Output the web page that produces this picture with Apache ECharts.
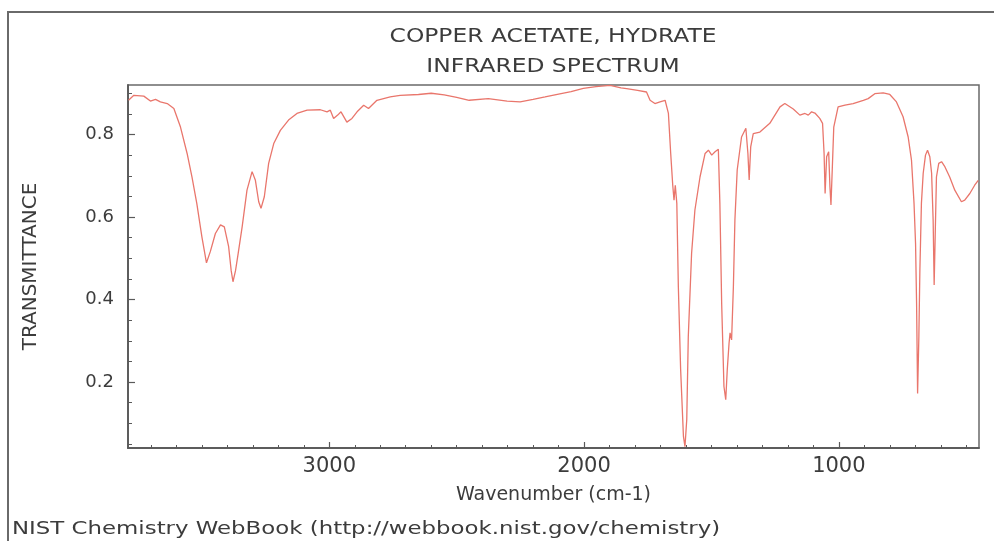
<!DOCTYPE html>
<html>
<head>
<meta charset="utf-8">
<script src="https://cdn.jsdelivr.net/npm/echarts@6/dist/echarts.min.js"></script>
<style>
  html, body { margin: 0; padding: 0; background: #ffffff; }
  #chart { width: 994px; height: 541px; }
</style>
</head>
<body>
<div id="chart"></div>
<script>
// IR spectrum of copper acetate hydrate: wavenumber (cm-1) vs transmittance
const wavenumbers = [
  3788, 3767, 3728, 3702, 3682, 3663, 3636, 3610, 3584, 3558, 3539, 3520, 3500, 3482,
  3467, 3447, 3427, 3412, 3395, 3385, 3378, 3368, 3358, 3342, 3323, 3303, 3290, 3277,
  3268, 3255, 3238, 3218, 3192, 3160, 3127, 3087, 3035, 3009, 2996, 2983, 2967, 2954,
  2931, 2911, 2891, 2865, 2846, 2813, 2761, 2722, 2650, 2600, 2549, 2500, 2451, 2376,
  2302, 2251, 2200, 2153, 2100, 2051, 2003, 1953, 1898, 1855, 1833, 1790, 1755, 1741,
  1722, 1702, 1682, 1669, 1660, 1652, 1647, 1642, 1636, 1630, 1621, 1610, 1604, 1597,
  1591, 1578, 1565, 1545, 1525, 1512, 1499, 1486, 1473, 1467, 1460, 1451, 1444, 1438,
  1431, 1427, 1421, 1414, 1408, 1399, 1382, 1365, 1357, 1352, 1346, 1336, 1310, 1271,
  1231, 1212, 1205, 1179, 1153, 1133, 1120, 1107, 1094, 1075, 1064, 1058, 1054, 1048,
  1040, 1035, 1031, 1026, 1020, 1003, 976, 944, 904, 885, 859, 826, 800, 774,
  748, 728, 715, 705, 699, 695, 691, 686, 682, 676, 669, 660, 652, 643,
  636, 630, 626, 622, 617, 608, 597, 584, 565, 545, 519, 506, 486, 467, 453
];
const transmittance = [
  0.883, 0.895, 0.893, 0.881, 0.885, 0.879, 0.875, 0.863, 0.818, 0.754, 0.697, 0.633, 0.552, 0.489,
  0.516, 0.560, 0.581, 0.576, 0.528, 0.470, 0.443, 0.470, 0.510, 0.576, 0.665, 0.710, 0.689, 0.637,
  0.621, 0.649, 0.730, 0.778, 0.810, 0.835, 0.851, 0.859, 0.860, 0.855, 0.859, 0.839, 0.847, 0.855,
  0.830, 0.839, 0.855, 0.871, 0.863, 0.883, 0.891, 0.895, 0.897, 0.900, 0.896, 0.890, 0.883, 0.887,
  0.881, 0.879, 0.885, 0.891, 0.898, 0.904, 0.912, 0.916, 0.919, 0.913, 0.911, 0.907, 0.903, 0.883,
  0.875, 0.879, 0.883, 0.851, 0.754, 0.677, 0.641, 0.677, 0.633, 0.431, 0.230, 0.068, 0.043, 0.109,
  0.310, 0.512, 0.617, 0.697, 0.754, 0.762, 0.750, 0.758, 0.764, 0.633, 0.391, 0.189, 0.157, 0.230,
  0.294, 0.319, 0.302, 0.431, 0.593, 0.714, 0.794, 0.815, 0.754, 0.690, 0.770, 0.802, 0.806, 0.827,
  0.867, 0.875, 0.871, 0.862, 0.847, 0.851, 0.847, 0.855, 0.852, 0.839, 0.827, 0.754, 0.657, 0.746,
  0.758, 0.673, 0.629, 0.714, 0.818, 0.867, 0.871, 0.875, 0.883, 0.887, 0.899, 0.901, 0.897, 0.879,
  0.843, 0.794, 0.738, 0.633, 0.536, 0.391, 0.172, 0.310, 0.472, 0.633, 0.706, 0.750, 0.762, 0.746,
  0.706, 0.593, 0.435, 0.552, 0.697, 0.730, 0.734, 0.722, 0.697, 0.665, 0.637, 0.641, 0.657, 0.677, 0.689
];

// Axis ticks and labels
const xLabelValues = [1000, 2000, 3000];
const xMinorTicks = [500, 600, 700, 800, 900, 1000, 1100, 1200, 1300, 1400, 1500, 1600, 1700, 1800,
  1900, 2000, 2100, 2200, 2300, 2400, 2500, 2600, 2700, 2800, 2900, 3000, 3100, 3200, 3300, 3400,
  3500, 3600, 3700];
const yLabelValues = [0.2, 0.4, 0.6, 0.8];
const yMinorTicks = [0.05, 0.1, 0.15, 0.2, 0.25, 0.3, 0.35, 0.4, 0.45, 0.5, 0.55, 0.6, 0.65,
  0.7, 0.75, 0.8, 0.85, 0.9];

const titleLines = ['COPPER ACETATE, HYDRATE', 'INFRARED SPECTRUM'];
const footerText = 'NIST Chemistry WebBook (http://webbook.nist.gov/chemistry)';

const FONT = '"DejaVu Sans", "Noto Sans", sans-serif';
const AXIS_COLOR = '#5a5a5a';
const TEXT_COLOR = '#3c3c3c';

const chart = echarts.init(document.getElementById('chart'), null, { renderer: 'canvas' });

const xRange = { min: 450, max: 3790 };
const yRange = { min: 0.04, max: 0.92 };

const baseX = {
  type: 'value',
  inverse: true,
  min: xRange.min,
  max: xRange.max,
  position: 'bottom',
  splitLine: { show: false },
  axisLine: { show: true, lineStyle: { color: AXIS_COLOR, width: 1.5 } }
};
const baseY = {
  type: 'value',
  min: yRange.min,
  max: yRange.max,
  position: 'left',
  splitLine: { show: false },
  axisLine: { show: true, lineStyle: { color: AXIS_COLOR, width: 1.5 } }
};

chart.setOption({
  animation: false,
  backgroundColor: '#ffffff',
  grid: {
    left: 128, top: 85, right: 15, bottom: 93,
    show: true, borderColor: '#6a6a6a', borderWidth: 1.5, backgroundColor: 'transparent'
  },
  xAxis: [
    Object.assign({}, baseX, {
      name: 'Wavenumber (cm-1)',
      nameLocation: 'middle',
      nameGap: 38,
      nameTextStyle: { fontFamily: FONT, fontSize: 19, color: TEXT_COLOR },
      axisTick: { show: true, inside: true, length: 6, customValues: xLabelValues,
        lineStyle: { color: AXIS_COLOR, width: 1.2 } },
      axisLabel: { show: true, margin: 8, customValues: xLabelValues,
        fontFamily: FONT, fontSize: 21, color: TEXT_COLOR,
        formatter: v => String(v) }
    }),
    Object.assign({}, baseX, {
      axisTick: { show: true, inside: true, length: 3, customValues: xMinorTicks,
        lineStyle: { color: AXIS_COLOR, width: 1 } },
      axisLabel: { show: false }
    })
  ],
  yAxis: [
    Object.assign({}, baseY, {
      name: 'TRANSMITTANCE',
      nameLocation: 'middle',
      nameGap: 87,
      nameTextStyle: { fontFamily: FONT, fontSize: 20, color: TEXT_COLOR },
      axisTick: { show: true, inside: true, length: 7, customValues: yLabelValues,
        lineStyle: { color: AXIS_COLOR, width: 1.2 } },
      axisLabel: { show: true, margin: 14, customValues: yLabelValues,
        fontFamily: FONT, fontSize: 18, color: TEXT_COLOR,
        formatter: v => v.toFixed(1) }
    }),
    Object.assign({}, baseY, {
      axisTick: { show: true, inside: true, length: 4, customValues: yMinorTicks,
        lineStyle: { color: AXIS_COLOR, width: 1 } },
      axisLabel: { show: false }
    })
  ],
  series: [{
    type: 'line',
    xAxisIndex: 0,
    yAxisIndex: 0,
    data: wavenumbers.map((w, i) => [w, transmittance[i]]),
    showSymbol: false,
    smooth: false,
    lineStyle: { color: '#e9766c', width: 1.3 },
    clip: true
  }],
  graphic: [
    // outer frame, open towards the right and bottom edges
    { type: 'polyline', shape: { points: [[8, 545], [8, 12], [1000, 12]] },
      style: { stroke: '#6a6a6a', lineWidth: 2, fill: null }, silent: true },
    { type: 'text', x: 553, y: 37, scaleX: 1.23,
      style: { text: titleLines[0], font: '19px ' + FONT, fill: TEXT_COLOR,
        align: 'center', verticalAlign: 'middle' } },
    { type: 'text', x: 553, y: 67, scaleX: 1.23,
      style: { text: titleLines[1], font: '19px ' + FONT, fill: TEXT_COLOR,
        align: 'center', verticalAlign: 'middle' } },
    { type: 'text', x: 12, y: 529, scaleX: 1.27,
      style: { text: footerText, font: '18px ' + FONT, fill: TEXT_COLOR,
        align: 'left', verticalAlign: 'middle' } }
  ]
});
</script>
</body>
</html>
